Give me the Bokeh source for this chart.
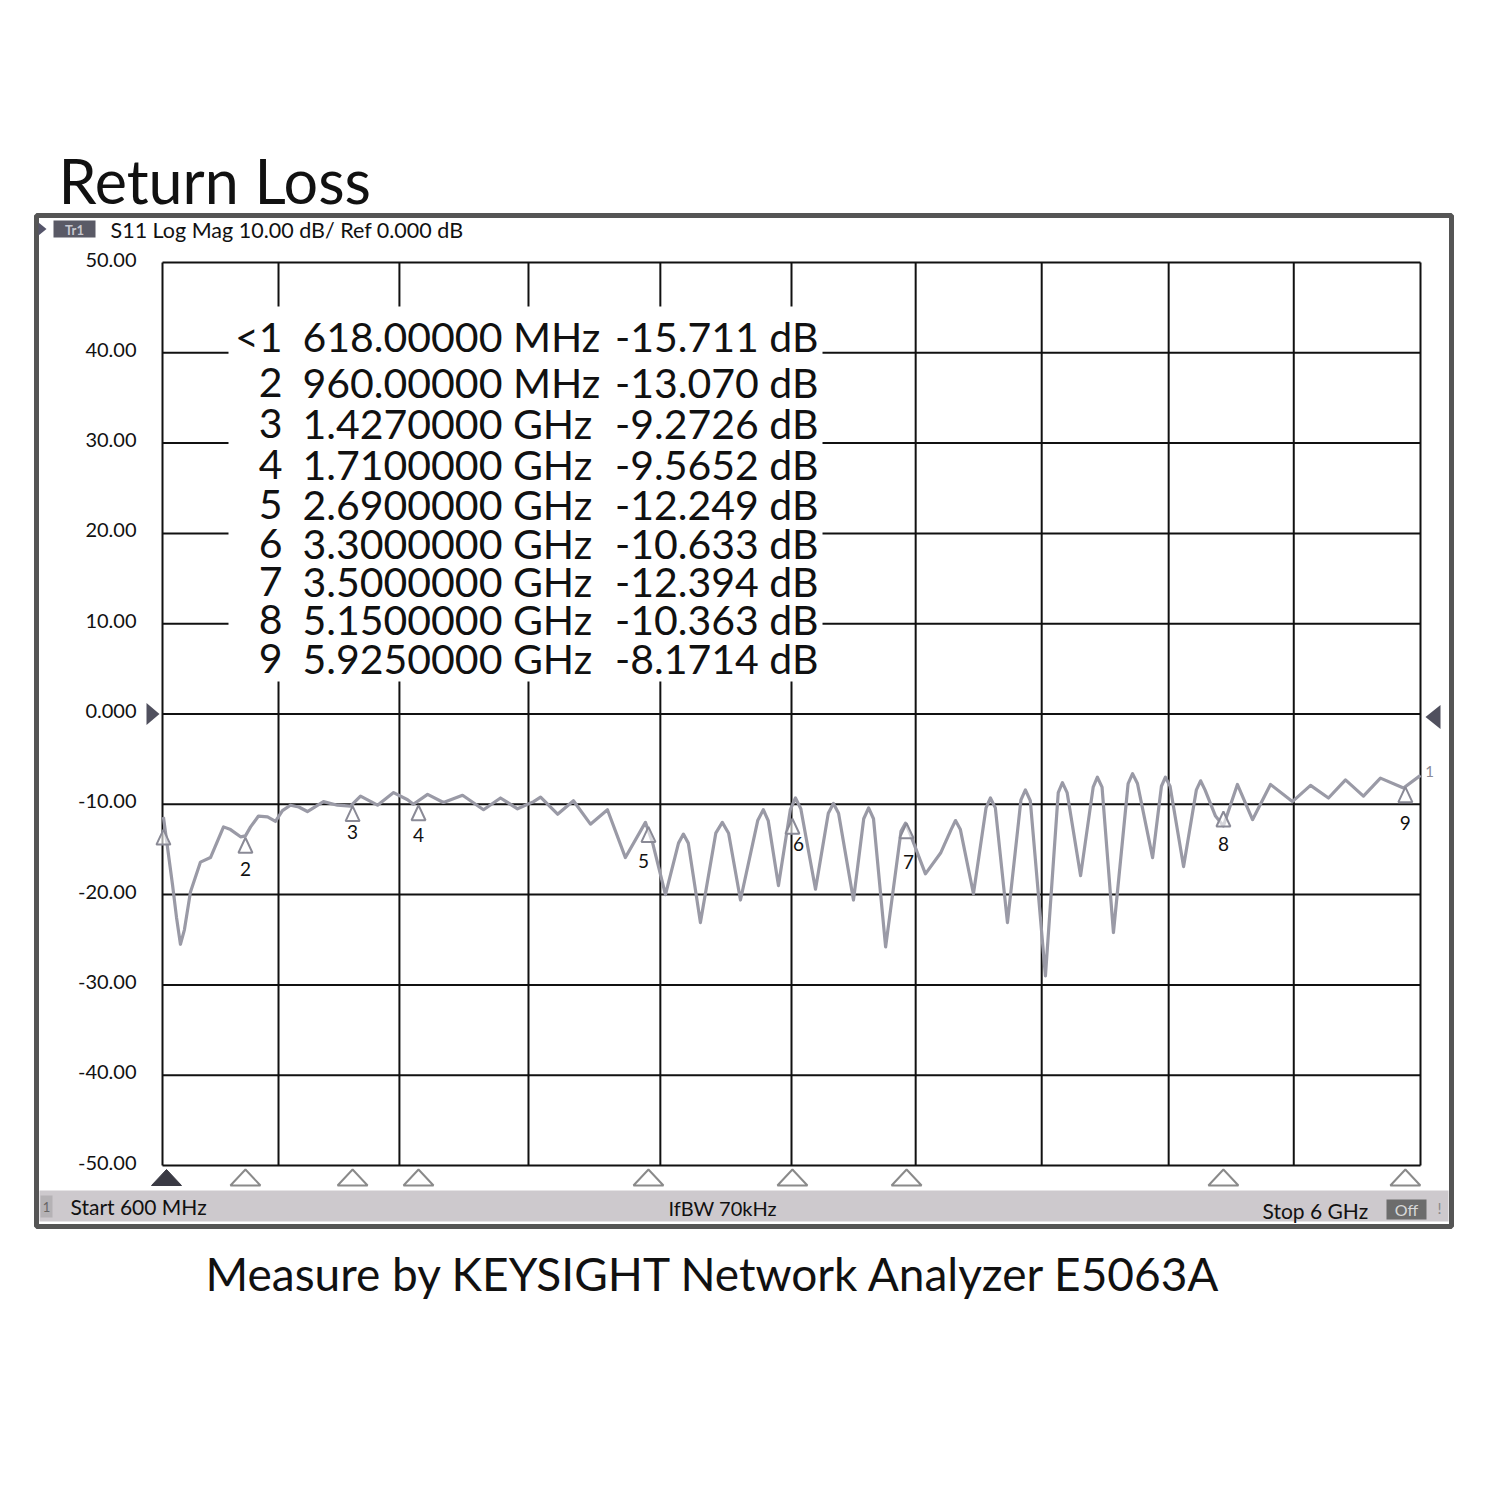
from bokeh.plotting import figure
from bokeh.models import Range1d
from bokeh.embed import file_html
from bokeh.resources import INLINE
from bokeh.core.properties import value

# ---------------- data ----------------
start_ghz = 0.6
stop_ghz = 6.0
# vertical division lines as they appear in the (slightly distorted) screenshot
x_grid_ghz = [0.6, 1.098, 1.617, 2.171, 2.737, 3.3, 3.833, 4.374, 4.919, 5.456, 6.0]
y_ticks = [50, 40, 30, 20, 10, 0, -10, -20, -30, -40, -50]
y_tick_labels = ["50.00", "40.00", "30.00", "20.00", "10.00", "0.000",
                 "-10.00", "-20.00", "-30.00", "-40.00", "-50.00"]

trace_ghz = [0.604, 0.617, 0.643, 0.660, 0.677, 0.694, 0.720, 0.763, 0.806, 0.862,
             0.892, 0.935, 0.956, 0.978, 1.012, 1.051, 1.085, 1.115, 1.149, 1.185,
             1.222, 1.291, 1.351, 1.407, 1.450, 1.523, 1.592, 1.652, 1.677, 1.738,
             1.806, 1.888, 1.978, 2.051, 2.124, 2.193, 2.223, 2.296, 2.364, 2.437,
             2.510, 2.587, 2.673, 2.703, 2.759, 2.815, 2.836, 2.857, 2.909, 2.975,
             3.003, 3.030, 3.081, 3.155, 3.179, 3.200, 3.244, 3.295, 3.317, 3.340,
             3.403, 3.458, 3.480, 3.502, 3.566, 3.610, 3.631, 3.652, 3.704, 3.770,
             3.789, 3.808, 3.875, 3.940, 3.985, 4.004, 4.025, 4.081, 4.135, 4.154,
             4.175, 4.227, 4.285, 4.304, 4.325, 4.390, 4.445, 4.463, 4.483, 4.541,
             4.595, 4.613, 4.633, 4.682, 4.745, 4.764, 4.785, 4.850, 4.888, 4.905,
             4.925, 4.983, 5.038, 5.056, 5.075, 5.120, 5.154, 5.214, 5.279, 5.356,
             5.450, 5.528, 5.605, 5.678, 5.755, 5.828, 5.927, 6.000]
trace_db = [-11.4, -13.9, -18.9, -22.5, -25.5, -23.9, -19.7, -16.4, -15.9, -12.5,
            -12.8, -13.6, -13.5, -12.5, -11.3, -11.4, -11.9, -10.7, -10.1, -10.3,
            -10.8, -9.7, -10.1, -10.2, -9.1, -10.1, -8.7, -9.5, -10.0, -8.9,
            -9.8, -9.0, -10.6, -9.3, -10.5, -9.7, -9.2, -11.1, -9.6, -12.2,
            -10.6, -15.9, -12.0, -14.2, -20.0, -14.3, -13.3, -14.3, -23.1, -13.2,
            -12.0, -13.2, -20.6, -11.8, -10.6, -11.8, -19.0, -10.6, -9.3, -10.5,
            -19.4, -11.0, -9.9, -11.0, -20.6, -11.6, -10.4, -11.6, -25.8, -13.0,
            -12.1, -13.2, -17.7, -15.4, -12.8, -11.8, -12.8, -19.9, -10.4, -9.3,
            -10.4, -23.1, -9.5, -8.4, -9.6, -29.0, -8.7, -7.6, -8.7, -17.9,
            -8.1, -7.0, -8.1, -24.2, -7.7, -6.6, -7.7, -15.9, -8.0, -7.0,
            -8.0, -16.9, -8.4, -7.4, -8.4, -11.3, -12.4, -7.8, -11.7, -7.8,
            -9.7, -7.9, -9.3, -7.3, -9.1, -7.1, -8.2, -6.8]

marker_ids = ["1", "2", "3", "4", "5", "6", "7", "8", "9"]
marker_ghz = [0.604, 0.956, 1.416, 1.699, 2.686, 3.304, 3.794, 5.154, 5.935]
marker_db = [-12.8, -13.7, -10.2, -10.1, -12.5, -11.6, -12.1, -10.8, -8.1]

table_num = ["<1", "2", "3", "4", "5", "6", "7", "8", "9"]
table_freq = ["618.00000 MHz", "960.00000 MHz", "1.4270000 GHz", "1.7100000 GHz",
              "2.6900000 GHz", "3.3000000 GHz", "3.5000000 GHz", "5.1500000 GHz",
              "5.9250000 GHz"]
table_val = ["-15.711 dB", "-13.070 dB", "-9.2726 dB", "-9.5652 dB", "-12.249 dB",
             "-10.633 dB", "-12.394 dB", "-10.363 dB", "-8.1714 dB"]

title_text = "Return Loss"
header_text = "S11  Log Mag 10.00 dB/  Ref 0.000 dB"
footer_text = "Measure by KEYSIGHT Network Analyzer E5063A"
status_start = "Start 600 MHz"
status_ifbw = "IfBW 70kHz"
status_stop = "Stop 6 GHz"

# ---------------- page geometry (page pixels) ----------------
W = H = 1484
PAD = 0
GX0, GX1 = 162, 1420      # page px of start / stop
GY0, GY1 = 262, 1165      # page px of +50 / -50 dB
ppx = (GX1 - GX0) / (stop_ghz - start_ghz)
ppy = (GY1 - GY0) / 100.0


def X(px):
    return start_ghz + (px - GX0) / ppx


def Y(py):
    return 50 - (py - GY0) / ppy


def DX(px):
    return px / ppx


def DY(py):
    return py / ppy


FONT = value("Lato")

p = figure(width=W, height=H, title=None,
           x_range=Range1d(X(PAD), X(PAD + W)),
           y_range=Range1d(Y(PAD + H), Y(PAD)),
           output_backend="svg", toolbar_location=None,
           x_axis_location=None, y_axis_location=None,
           min_border=0, outline_line_color=None,
           background_fill_color="white", border_fill_color="white")
p.xgrid.visible = False
p.ygrid.visible = False

# ---------------- grid ----------------
y_lo, y_hi = min(y_ticks), max(y_ticks)
p.segment(x0=x_grid_ghz, x1=x_grid_ghz, y0=[y_lo] * len(x_grid_ghz), y1=[y_hi] * len(x_grid_ghz),
          line_color="#111111", line_width=2)
p.segment(x0=[start_ghz] * len(y_ticks), x1=[stop_ghz] * len(y_ticks), y0=y_ticks, y1=y_ticks,
          line_color="#111111", line_width=2)

# ---------------- instrument frame ----------------
p.quad(left=X(36), right=X(1451), top=Y(215), bottom=Y(1226),
       fill_color=None, line_color="#555555", line_width=5)
# status bar
p.quad(left=X(39), right=X(1448), top=Y(1190), bottom=Y(1221),
       fill_color="#cdc9cd", line_color=None)
p.quad(left=X(40), right=X(52), top=Y(1195), bottom=Y(1217),
       fill_color="#b5b2b5", line_color=None)
p.text(x=[X(46)], y=[Y(1206)], text=["1"], text_font=FONT, text_font_size=value("13px"),
       text_color="#666666", text_align="center", text_baseline="middle")
p.quad(left=X(1386), right=X(1426), top=Y(1199), bottom=Y(1219),
       fill_color="#6c6c6c", line_color=None)
p.text(x=[X(1406)], y=[Y(1209)], text=["Off"], text_font=FONT, text_font_size=value("16px"),
       text_color="#d8d8d8", text_align="center", text_baseline="middle")
p.text(x=[X(1439)], y=[Y(1207)], text=["!"], text_font=FONT, text_font_size=value("15px"),
       text_color="#888888", text_align="center", text_baseline="middle")
p.text(x=[X(70)], y=[Y(1206)], text=[status_start], text_font=FONT,
       text_font_size=value("21px"), text_color="#111111", text_baseline="middle")
p.text(x=[X(668)], y=[Y(1207)], text=[status_ifbw], text_font=FONT,
       text_font_size=value("20px"), text_color="#111111", text_baseline="middle")
p.text(x=[X(1262)], y=[Y(1210)], text=[status_stop], text_font=FONT,
       text_font_size=value("21px"), text_color="#111111", text_baseline="middle")

# header
p.patches(xs=[[X(38), X(38), X(46)]], ys=[[Y(222), Y(235), Y(228.5)]],
          fill_color="#55556a", line_color=None)
p.quad(left=X(53), right=X(95), top=Y(220), bottom=Y(237),
       fill_color="#5a5a66", line_color=None)
p.text(x=[X(74)], y=[Y(229)], text=["Tr1"], text_font=FONT, text_font_size=value("13px"),
       text_color="#c8c8d0", text_align="center", text_baseline="middle", text_font_style="bold")
p.text(x=[X(110)], y=[Y(229)], text=[header_text], text_font=FONT,
       text_font_size=value("21.5px"), text_color="#111111", text_baseline="middle")

# y tick labels
p.text(x=[X(136)] * len(y_ticks), y=[t + DY(3) for t in y_ticks], text=y_tick_labels,
       text_font=FONT, text_font_size=value("20px"), text_color="#111111",
       text_align="right", text_baseline="middle")

# reference triangles at 0 dB
p.patches(xs=[[X(146), X(146), X(159)], [X(1440), X(1440), X(1425)]],
          ys=[[0 + DY(11), 0 - DY(11), 0], [0 + DY(12) - DY(3), 0 - DY(12) - DY(3), 0 - DY(3)]],
          fill_color="#50505e", line_color=None)

# ---------------- marker table ----------------
p.quad(left=X(228), right=X(822), top=Y(306), bottom=Y(681),
       fill_color="white", line_color=None)
row_y = [Y(v) for v in (336, 382, 423, 464, 504, 543, 581, 619, 658)]
p.text(x=[X(282)] * 9, y=row_y, text=table_num, text_font=FONT,
       text_font_size=value("41px"), text_color="#111111", text_align="right",
       text_baseline="middle")
p.text(x=[X(302)] * 9, y=row_y, text=table_freq, text_font=FONT,
       text_font_size=value("41px"), text_color="#111111", text_align="left",
       text_baseline="middle")
p.text(x=[X(818)] * 9, y=row_y, text=table_val, text_font=FONT,
       text_font_size=value("41px"), text_color="#111111", text_align="right",
       text_baseline="middle")

# ---------------- trace ----------------
p.line(trace_ghz, trace_db, line_color="#9a9aa6", line_width=3.2, line_join="round")

# markers on the trace (triangles hanging below the trace point)
tri_xs = [[m - DX(7), m + DX(7), m] for m in marker_ghz]
tri_ys = [[d - DY(15), d - DY(15), d] for d in marker_db]
p.patches(xs=tri_xs, ys=tri_ys, fill_color="white", fill_alpha=0.6,
          line_color="#8a8a96", line_width=2)
lab_dx = [0, 0, 0, 0, -5, 6, 2, 0, 0]
lab_dy = [0, 31, 26, 30, 34, 25, 39, 32, 36]
p.text(x=[m + DX(o) for m, o in zip(marker_ghz[1:], lab_dx[1:])],
       y=[d - DY(o) for d, o in zip(marker_db[1:], lab_dy[1:])], text=marker_ids[1:],
       text_font=FONT, text_font_size=value("19px"), text_color="#111111",
       text_align="center", text_baseline="middle")
p.text(x=[X(1429)], y=[Y(771)], text=["1"], text_font=FONT, text_font_size=value("15px"),
       text_color="#8a8a96", text_align="center", text_baseline="middle")

# marker position triangles below the grid
bx = [max(m, X(166)) for m in marker_ghz]
b_xs = [[m - DX(15), m + DX(15), m] for m in bx]
b_ys = [[Y(1185), Y(1185), Y(1169)] for _ in bx]
p.patches(xs=b_xs[1:], ys=b_ys[1:], fill_color="white", line_color="#8a8a8a", line_width=2)
p.patches(xs=b_xs[:1], ys=b_ys[:1], fill_color="#3a3a44", line_color="#3a3a44", line_width=1)

# ---------------- titles ----------------
p.text(x=[X(58)], y=[Y(180)], text=[title_text], text_font=FONT,
       text_font_size=value("61px"), text_color="#111111", text_baseline="middle")
p.text(x=[X(205)], y=[Y(1273)], text=[footer_text], text_font=FONT,
       text_font_size=value("46px"), text_color="#111111", text_baseline="middle")

open("out.html", "w").write(file_html(p, INLINE))
